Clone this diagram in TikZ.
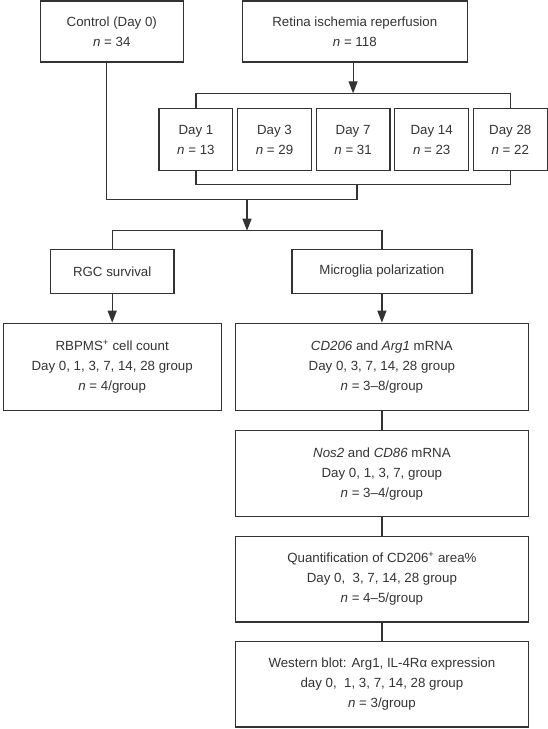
\documentclass[tikz,border=0pt]{standalone}
\usepackage{fontspec}
\setmainfont{Liberation Sans}
\usetikzlibrary{arrows.meta,positioning}
\tikzset{
    %Define standard arrow tip
    >={Triangle[length=12pt,width=9pt]},
    %Define style for boxes
    stepbox/.style={
           rectangle,
           draw, line width=1.2pt,
           inner sep=0pt,
           font=\fontsize{13.3}{20}\selectfont,
           align=center},
    daybox/.style={
           stepbox,
           minimum width=73.7pt,
           minimum height=62.4pt},
    studybox/.style={
           stepbox,
           minimum width=293pt,
           minimum height=86pt}
}

\begin{document}
\begin{tikzpicture}[x=1pt,y=-1pt,line width=1.2pt,color=black!80]
\useasboundingbox (0,0) rectangle (548,729);
% groups
\node[stepbox, minimum width=143pt, minimum height=61pt](ctrl) at (111.8,31.5){Control (Day 0)\\ \textit{n} = 34};
\node[stepbox, minimum width=225pt, minimum height=61pt](retina) at (354.8,31.5){Retina ischemia reperfusion\\ \textit{n} = 118};
\node[daybox](day1) at (195.9,139.5){Day 1\\ \textit{n} = 13};
\node[daybox, right=3.7pt of day1](day3){Day 3\\ \textit{n} = 29};
\node[daybox, right=3.7pt of day3](day7){Day 7\\ \textit{n} = 31};
\node[daybox, right=3.7pt of day7](day14){Day 14\\ \textit{n} = 23};
\node[daybox, right=3.7pt of day14](day28){Day 28\\ \textit{n} = 22};
% studies
\node[stepbox, minimum width=123.7pt, minimum height=44pt](rgc) at (112.2,271.3){RGC survival};
\node[stepbox, minimum width=180pt, minimum height=44pt](micro) at (381.9,271.3){Microglia polarization};
\node[stepbox, minimum width=218pt, minimum height=87pt, below=28.8pt of rgc](rbpms){RBPMS\textsuperscript{+} cell count\\ Day 0, 1, 3, 7, 14, 28 group\\ \textit{n} = 4/group};
\node[studybox, minimum height=87pt, below=28.8pt of micro](cd206){\textit{CD206} and \textit{Arg1} mRNA\\ Day 0, 3, 7, 14, 28 group\\ \textit{n} = 3--8/group};
\node[studybox, below=19.1pt of cd206](nos2){\textit{Nos2} and \textit{CD86} mRNA\\ Day 0, 1, 3, 7, group\\ \textit{n} = 3--4/group};
\node[studybox, minimum height=85.7pt, below=18.4pt of nos2](quant){Quantification of CD206\textsuperscript{+} area\%\\ Day 0,\ \ 3, 7, 14, 28 group\\ \textit{n} = 4--5/group};
\node[studybox, minimum height=85.4pt, below=18.4pt of quant](western){Western blot: Arg1, IL-4Rα expression\\ day 0,\ \ 1, 3, 7, 14, 28 group\\ \textit{n} = 3/group};
% connectors
\coordinate(topbar) at (0,93.3);
\coordinate(botbar) at (0,184.3);
\coordinate(merge) at (357,199.3);
\coordinate(fork) at (247,230.7);
\draw[->] (retina.south -| day7) -- (day7 |- topbar);
\draw (day1.north) |- (day28.north |- topbar) -- (day28.north);
\draw (day1.south) |- (day28.south |- botbar) -- (day28.south);
\draw (merge |- botbar) -- (merge) -| ([xshift=-5pt]ctrl.south);
\draw[->] (fork |- merge) -- (fork);
\draw (rgc.north) |- (fork) -| (micro.north);
\path[->]
	(rgc) edge (rbpms)
	(micro) edge (cd206);
\path[]
	(cd206) edge (nos2)
	(nos2) edge (quant)
	(quant) edge (western);
\end{tikzpicture}
\end{document}
